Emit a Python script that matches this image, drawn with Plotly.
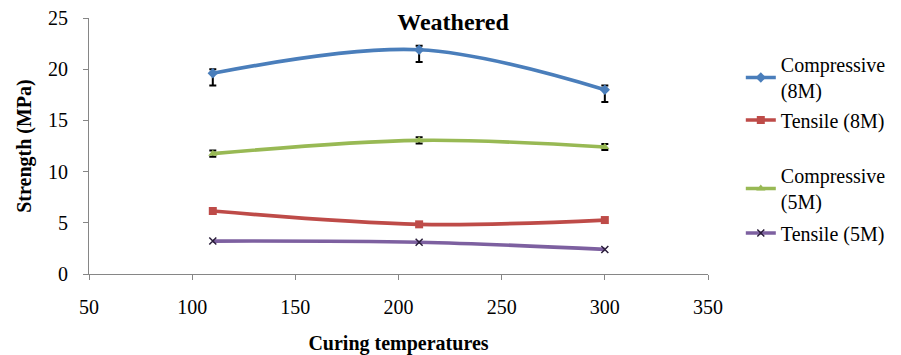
import plotly.graph_objects as go

temps = [110, 210, 300]
comp_8m = [19.6, 21.9, 18.0]
comp_8m_err_plus = [0.4, 0.4, 0.4]
comp_8m_err_minus = [1.2, 1.2, 1.2]
tens_8m = [6.15, 4.85, 5.27]
comp_5m = [11.75, 13.05, 12.4]
comp_5m_err = [0.3, 0.3, 0.3]
tens_5m = [3.22, 3.1, 2.4]

names = ["Compressive<br>(8M)", "Tensile (8M)", "Compressive<br>(5M)", "Tensile (5M)"]
colors = ["#4A7EBB", "#BE4B48", "#98B954", "#7D60A0"]
symbols = ["diamond", "square", "triangle-up", "x-thin"]

FONT = "Liberation Serif"

fig = go.Figure()

legend_ids = ["legend", "legend2", "legend3", "legend4"]

def add(y, i, err=None):
    kw = {}
    if err is not None:
        kw["error_y"] = dict(type="data", symmetric=False, array=err[0], arrayminus=err[1],
                             color="black", thickness=2, width=3.5)
    fig.add_trace(go.Scatter(
        x=temps, y=y, name=names[i], mode="lines+markers",
        line=dict(color=colors[i], width=3.7, shape="spline", smoothing=1),
        marker=dict(symbol=symbols[i], size=8 if i != 3 else 7, color=colors[i],
                    line=dict(color=colors[i] if i != 3 else "#2a1d3a", width=1.5 if i == 3 else 0)),
        legend=legend_ids[i], **kw))

add(comp_8m, 0, (comp_8m_err_plus, comp_8m_err_minus))
add(tens_8m, 1)
add(comp_5m, 2, (comp_5m_err, comp_5m_err))
add(tens_5m, 3)

def leg(ypage):
    return dict(x=1.053, xanchor="left", y=(274 - ypage) / 256, yanchor="middle",
                font=dict(size=20, family=FONT, color="black"), bgcolor="rgba(0,0,0,0)")

fig.update_layout(
    width=893, height=347,
    margin=dict(l=81, r=193, t=10, b=81, autoexpand=False),
    plot_bgcolor="white", paper_bgcolor="white",
    font=dict(family=FONT, size=20, color="black"),
    title=dict(text="<b>Weathered</b>", x=(453 - 8) / 893, xanchor="center", xref="container",
               y=1 - (22 - 8) / 347, yanchor="middle", yref="container",
               font=dict(size=24, family=FONT, color="black")),
    xaxis=dict(range=[50, 350], tickvals=[50, 100, 150, 200, 250, 300, 350],
               showgrid=False, zeroline=False, showline=True, linecolor="#868686", linewidth=1,
               ticks="outside", ticklen=5, tickcolor="#868686", ticklabeloverflow="allow",
               ticklabelstandoff=10,
               tickfont=dict(family=FONT, size=20, color="black"),
               title=dict(text="<b>Curing temperatures</b>", font=dict(family=FONT, size=20, color="black"),
                          standoff=21)),
    yaxis=dict(range=[0, 25], tickvals=[0, 5, 10, 15, 20, 25],
               showgrid=False, zeroline=False, showline=True, linecolor="#868686", linewidth=1,
               ticks="outside", ticklen=5, tickcolor="#868686", ticklabeloverflow="allow",
               ticklabelstandoff=11,
               tickfont=dict(family=FONT, size=20, color="black"),
               title=dict(text="<b>Strength (MPa)</b>", font=dict(family=FONT, size=20, color="black"),
                          standoff=11)),
    legend=leg(77.5),
    legend2=leg(120),
    legend3=leg(188.5),
    legend4=leg(233),
    showlegend=True,
)

fig.write_html("out.html")
